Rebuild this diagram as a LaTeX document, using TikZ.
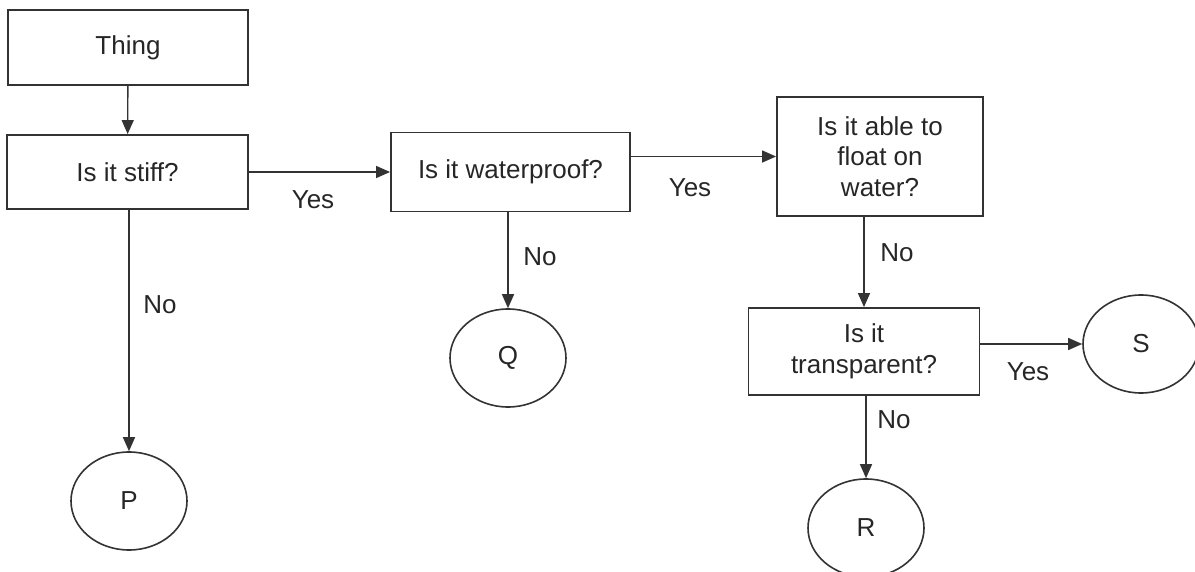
\documentclass[tikz,border=0pt]{standalone}
\usepackage{fontspec}
\setmainfont{Liberation Sans}
\usetikzlibrary{arrows.meta, positioning, shapes.geometric}

\begin{document}
\begin{tikzpicture}[x=1pt, y=-1pt,
        every node/.style={font=\fontsize{26}{30.5}\selectfont, text=black!85},
        qbox/.style={draw=black!80, line width=1.8pt, align=center, inner sep=0pt},
        leaf/.style={draw=black!80, ellipse, line width=1.6pt, inner sep=0pt,
            minimum width=116pt, minimum height=98pt},
        line width=1.4pt, draw=black!80,
        >={Triangle[length=14pt, width=12pt]},
    ]
    \useasboundingbox (0,0) rectangle (1195,572);
    % questions
    \node (thing) at (128,47.5) [qbox, minimum width=240pt, minimum height=75pt] {Thing};
    \node (stiff) at (127.5,172) [qbox, minimum width=241pt, minimum height=74pt] {Is it stiff?};
    \node (wp) at (510.5,172) [qbox, minimum width=239pt, minimum height=79pt] {Is it waterproof?};
    \node (float) at (880,156.5) [qbox, minimum width=206pt, minimum height=119pt] {Is it able to\\float on\\water?};
    \node (trans) at (864,351.5) [qbox, minimum width=231pt, minimum height=87pt] {Is it\\transparent?};
    % answers
    \node (P) at (129,501) [leaf] {P};
    \node (Q) at (508,358) [leaf] {Q};
    \node (R) at (866,528) [leaf] {R};
    \node (S) at (1141,344) [leaf] {S};
    % connectors
    \draw[->] (thing) -- (stiff);
    \draw[->] (stiff.east) -- (wp.west);
    \draw[->] (wp.east |- float.west) -- (float.west);
    \draw[->] (P.north |- stiff.south) -- (P.north);
    \draw[->] (Q.north |- wp.south) -- (Q.north);
    \draw[->] (trans.north |- float.south) -- (trans.north);
    \draw[->] (trans.east |- S.west) -- (S.west);
    \draw[->] (R.north |- trans.south) -- (R.north);
    % labels
    \node (yes1) at (313,200) {Yes};
    \node (yes2) at (690,188) {Yes};
    \node (yes3) at (1028,372) {Yes};
    \node (no1) at (160,305) {No};
    \node (no2) at (540,257) {No};
    \node (no3) at (897,253) {No};
    \node (no4) at (894,420) {No};
\end{tikzpicture}
\end{document}
